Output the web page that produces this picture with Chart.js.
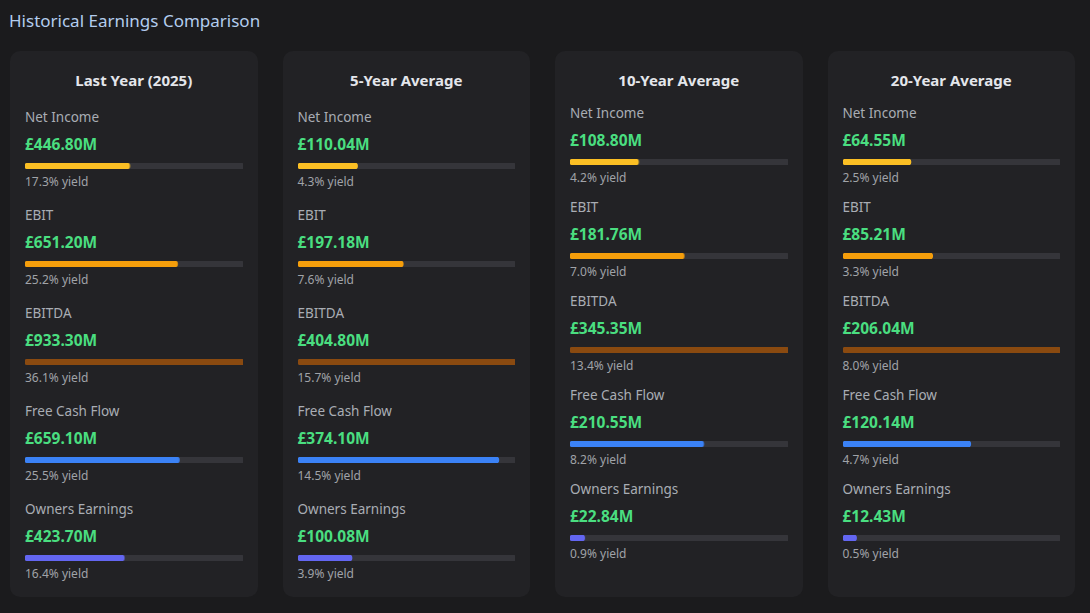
<!DOCTYPE html>
<html>
<head>
<meta charset="utf-8">
<script src="https://cdn.jsdelivr.net/npm/chart.js@4.4.1/dist/chart.umd.min.js"></script>
<style>
  html, body { margin: 0; padding: 0; background: #1b1b1d; width: 1090px; height: 613px; overflow: hidden; }
  body { font-family: "Noto Sans", "Open Sans", sans-serif; }
  h2 { margin: 0; position: absolute; left: 9px; top: 8px; font-size: 17px; font-weight: 400; line-height: 26px; color: #b3cdee; }
  #grid { position: absolute; left: 10px; top: 51px; width: 1065px; height: 546px; display: grid; grid-template-columns: repeat(4, minmax(0, 1fr)); column-gap: 25px; }
  .card { background: #222225; border-radius: 10px; padding: 17px 15px 15px 15px; display: flex; flex-direction: column; min-width: 0; }
  .card h3 { margin: 0; font-size: 15px; font-weight: 700; line-height: 24px; text-align: center; color: #e4e6eb; }
  .metric { min-width: 0; }
  .metric .lbl { font-size: 13.5px; line-height: 20px; color: #a9adb4; }
  .metric .val { font-size: 15.5px; font-weight: 700; line-height: 22px; margin-top: 6px; color: #4ade80; }
  .metric .bar { position: relative; height: 6px; margin-top: 8px; width: 100%; overflow: hidden; }
  .metric .yld { font-size: 12px; line-height: 16px; margin-top: 5px; color: #a0a3a8; }
</style>
</head>
<body>
<h2>Historical Earnings Comparison</h2>
<div id="grid"></div>
<script>
const periods = ['Last Year (2025)', '5-Year Average', '10-Year Average', '20-Year Average'];
const metrics = ['Net Income', 'EBIT', 'EBITDA', 'Free Cash Flow', 'Owners Earnings'];

// values in £M
const lastYearValues = [446.80, 651.20, 933.30, 659.10, 423.70];
const fiveYearValues = [110.04, 197.18, 404.80, 374.10, 100.08];
const tenYearValues = [108.80, 181.76, 345.35, 210.55, 22.84];
const twentyYearValues = [64.55, 85.21, 206.04, 120.14, 12.43];

// yields in %
const lastYearYields = [17.3, 25.2, 36.1, 25.5, 16.4];
const fiveYearYields = [4.3, 7.6, 15.7, 14.5, 3.9];
const tenYearYields = [4.2, 7.0, 13.4, 8.2, 0.9];
const twentyYearYields = [2.5, 3.3, 8.0, 4.7, 0.5];

const metricColors = ['#fbbf24', '#f59e0b', '#8a4a10', '#3b82f6', '#6366f1'];
const trackColor = '#35353a';

const allValues = [lastYearValues, fiveYearValues, tenYearValues, twentyYearValues];
const allYields = [lastYearYields, fiveYearYields, tenYearYields, twentyYearYields];
const cardGaps = [15, 15, 11, 11];

const grid = document.getElementById('grid');
const pending = [];

periods.forEach((period, p) => {
  const card = document.createElement('div');
  card.className = 'card';
  card.style.rowGap = cardGaps[p] + 'px';
  card.innerHTML = `<h3>${period}</h3>`;
  const maxYield = Math.max(...allYields[p]);

  metrics.forEach((m, i) => {
    const div = document.createElement('div');
    div.className = 'metric';
    div.innerHTML = `<div class="lbl">${m}</div>
      <div class="val">£${allValues[p][i].toFixed(2)}M</div>
      <div class="bar"><canvas></canvas></div>
      <div class="yld">${allYields[p][i].toFixed(1)}% yield</div>`;
    card.appendChild(div);
    const canvas = div.querySelector('canvas');
    pending.push(() => new Chart(canvas, {
      type: 'bar',
      data: {
        labels: [m],
        datasets: [
          {
            data: [allYields[p][i]],
            backgroundColor: metricColors[i],
            borderRadius: 3,
            borderSkipped: false,
            barPercentage: 1,
            categoryPercentage: 1,
            grouped: false,
            order: 0
          },
          {
            data: [maxYield],
            backgroundColor: trackColor,
            borderRadius: 3,
            borderSkipped: false,
            barPercentage: 1,
            categoryPercentage: 1,
            grouped: false,
            order: 1
          }
        ]
      },
      options: {
        indexAxis: 'y',
        responsive: true,
        maintainAspectRatio: false,
        animation: false,
        layout: { padding: 0 },
        plugins: { legend: { display: false }, tooltip: { enabled: false } },
        scales: {
          x: { display: false, min: 0, max: maxYield },
          y: { display: false }
        }
      }
    }));
  });
  grid.appendChild(card);
});

pending.forEach(f => f());
</script>
</body>
</html>
